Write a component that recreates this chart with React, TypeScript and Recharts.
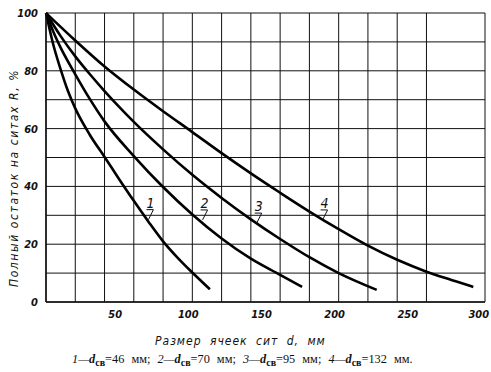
import { LineChart, Line, XAxis, YAxis, CartesianGrid, ReferenceDot } from 'recharts';

// curve 1: d_св = 46 мм
const sieve1 = [0, 5, 10, 15, 20, 30, 40, 50, 60, 70, 80, 90, 100, 112];
const rest1 = [100, 89, 80.5, 73, 67, 57.8, 50.2, 42.5, 35, 27.8, 21, 15.3, 10.2, 4.4];
// curve 2: d_св = 70 мм
const sieve2 = [0, 5, 10, 20, 30, 40, 60, 80, 100, 120, 140, 160, 175];
const rest2 = [100, 93.5, 88, 78.8, 70.2, 62.5, 50.5, 39.8, 30.3, 22, 15, 9.4, 5.2];
// curve 3: d_св = 95 мм
const sieve3 = [0, 10, 20, 30, 40, 50, 60, 80, 100, 120, 140, 160, 180, 200, 226];
const rest3 = [100, 92, 85, 78.8, 73, 67.5, 62.3, 52.8, 44, 36, 28.6, 21.8, 15.5, 10, 4.2];
// curve 4: d_св = 132 мм
const sieve4 = [0, 20, 40, 60, 80, 100, 120, 140, 160, 180, 200, 220, 240, 260, 280, 292];
const rest4 = [100, 90.5, 81.5, 73.5, 66, 58.8, 51.5, 44.5, 37.8, 31.3, 25.2, 19.5, 14.6, 10.5, 7.2, 5.2];

const curveNames = ['1', '2', '3', '4'];
const labelX = [70, 107, 144, 189];
const labelY = [28.5, 28.4, 27.3, 28.4];

const xTicks = [50, 100, 150, 200, 250, 300];
const yTicks = [0, 20, 40, 60, 80, 100];
const gridX = [0, 20, 40, 60, 80, 100, 120, 140, 160, 180, 200, 220, 240, 260, 280, 300];
const gridY = [0, 10, 20, 30, 40, 50, 60, 70, 80, 90, 100];

const zip = (xs: number[], ys: number[]) => xs.map((x, i) => ({ x, y: ys[i] }));
const curves = [zip(sieve1, rest1), zip(sieve2, rest2), zip(sieve3, rest3), zip(sieve4, rest4)];

const tickFont = {
  fontFamily: "'DejaVu Sans Condensed', 'Liberation Sans Narrow', 'DejaVu Sans', sans-serif",
  fontStyle: 'italic',
  fontWeight: 'bold',
  fontSize: 11,
  fill: '#111',
};

const CurveLabel = (props: any) => {
  const { cx, cy, name } = props;
  return (
    <g>
      <text x={cx + 2} y={cy - 12} textAnchor="middle" fontSize={14} fontStyle="italic"
        fontFamily="'DejaVu Sans Condensed', 'DejaVu Sans', sans-serif" fill="#111">
        {name}
      </text>
      <path d={`M${cx - 2},${cy - 10} L${cx + 5},${cy - 10} L${cx},${cy}`} stroke="#111"
        strokeWidth={1} fill="none" />
    </g>
  );
};

export default function App() {
  return (
    <div style={{ position: 'absolute', left: 0, top: 0, width: 491, height: 372, background: '#fff' }}>
      <LineChart width={491} height={372} margin={{ top: 13, right: 6, bottom: 50, left: 6 }}>
        <CartesianGrid stroke="#111" strokeWidth={1} verticalValues={gridX} horizontalValues={gridY} />
        <XAxis type="number" dataKey="x" domain={[0, 300]} ticks={xTicks} tickLine={false}
          axisLine={{ stroke: '#111', strokeWidth: 1.5 }} tick={{ ...tickFont, dx: -4 }} height={20}
          allowDuplicatedCategory={false} />
        <YAxis type="number" dataKey="y" domain={[0, 100]} ticks={yTicks} tickLine={false}
          axisLine={{ stroke: '#111', strokeWidth: 1.5 }} tick={tickFont} width={40} />
        {curves.map((data, i) => (
          <Line key={i} data={data} dataKey="y" type="monotone" stroke="#000" strokeWidth={2.6}
            dot={false} isAnimationActive={false} />
        ))}
        {curveNames.map((name, i) => (
          <ReferenceDot key={name} x={labelX[i]} y={labelY[i]} r={0}
            shape={(p: any) => <CurveLabel {...p} name={name} />} />
        ))}
      </LineChart>
      <div style={{
        position: 'absolute', left: 14, top: 178, width: 300, textAlign: 'center',
        transform: 'translate(-50%, -50%) rotate(-90deg)', whiteSpace: 'nowrap',
        fontFamily: "'DejaVu Sans Condensed', 'DejaVu Sans', sans-serif", fontStyle: 'italic',
        fontSize: 12, letterSpacing: 1.6, color: '#111',
      }}>
        Полный остаток на ситах <i>R</i>, %
      </div>
      <div style={{
        position: 'absolute', left: 155, top: 334, whiteSpace: 'nowrap',
        fontFamily: "'DejaVu Sans Condensed', 'DejaVu Sans', sans-serif", fontStyle: 'italic',
        fontSize: 12, letterSpacing: 1.0, wordSpacing: 4, color: '#111',
      }}>
        Размер ячеек сит d, мм
      </div>
      <div style={{
        position: 'absolute', left: 72, top: 352, whiteSpace: 'nowrap',
        fontFamily: "'Liberation Serif', 'DejaVu Serif', serif", fontSize: 12.3, wordSpacing: 4, color: '#111',
      }}>
        <i>1—<b>d</b></i><sub style={{ fontSize: 10, fontWeight: 'bold' }}>св</sub>=46 мм; <i>2—<b>d</b></i><sub style={{ fontSize: 10, fontWeight: 'bold' }}>св</sub>=70 мм; <i>3—<b>d</b></i><sub style={{ fontSize: 10, fontWeight: 'bold' }}>св</sub>=95 мм; <i>4—<b>d</b></i><sub style={{ fontSize: 10, fontWeight: 'bold' }}>св</sub>=132 мм.
      </div>
    </div>
  );
}
